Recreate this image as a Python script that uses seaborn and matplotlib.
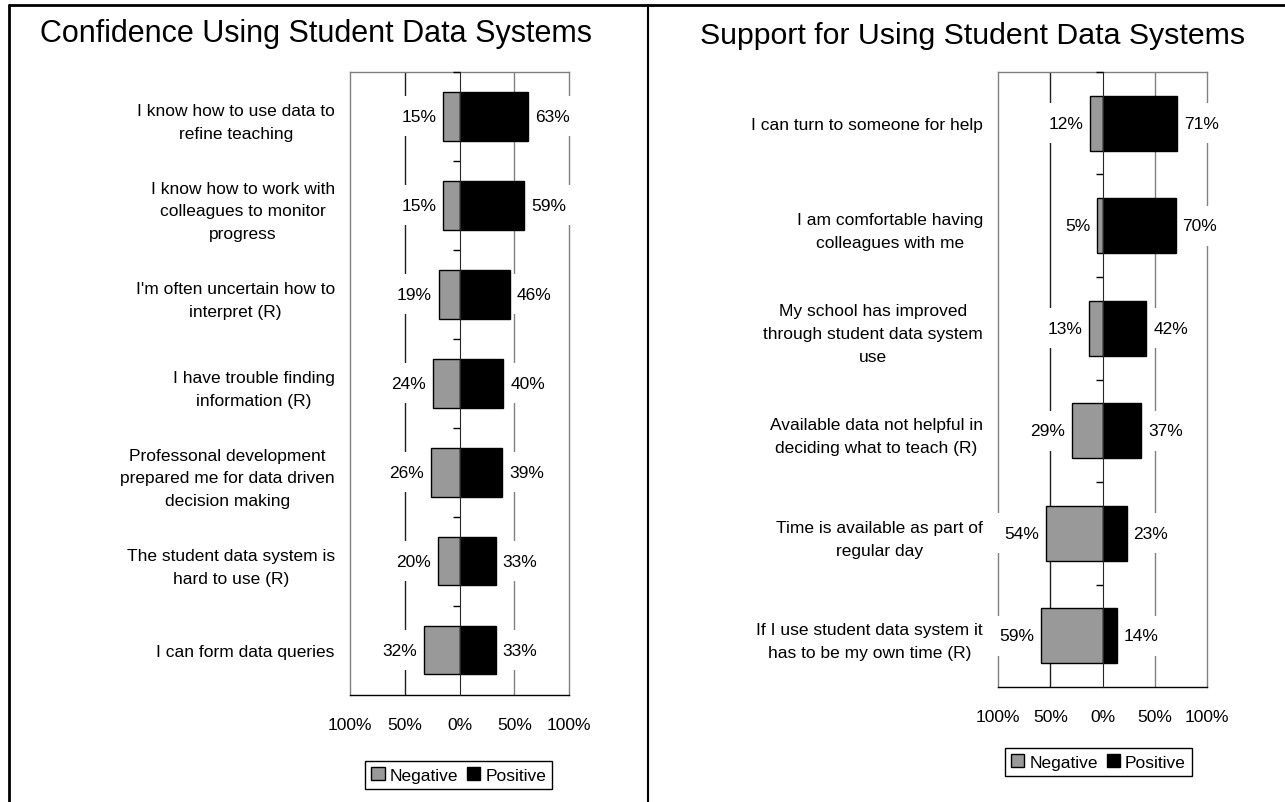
import pandas as pd
import matplotlib.pyplot as plt
import seaborn as sns
from matplotlib.patches import Patch
from matplotlib.lines import Line2D
from matplotlib.ticker import FuncFormatter

# Survey items and shares (negative / positive)
conf_items = [
    "I know how to use data to\nrefine teaching",
    "I know how to work with\ncolleagues to monitor\nprogress",
    "I'm often uncertain how to\ninterpret (R)",
    "I have trouble finding\ninformation (R)",
    "Professonal development\nprepared me for data driven\ndecision making",
    "The student data system is\nhard to use (R)",
    "I can form data queries",
]
conf_negative = [0.15, 0.15, 0.19, 0.24, 0.26, 0.20, 0.32]
conf_positive = [0.63, 0.59, 0.46, 0.40, 0.39, 0.33, 0.33]

supp_items = [
    "I can turn to someone for help",
    "I am comfortable having\ncolleagues with me",
    "My school has improved\nthrough student data system\nuse",
    "Available data not helpful in\ndeciding what to teach (R)",
    "Time is available as part of\nregular day",
    "If I use student data system it\nhas to be my own time (R)",
]
supp_negative = [0.12, 0.05, 0.13, 0.29, 0.54, 0.59]
supp_positive = [0.71, 0.70, 0.42, 0.37, 0.23, 0.14]

titles = ["Confidence Using Student Data Systems", "Support for Using Student Data Systems"]
kinds = ["Negative", "Positive"]
colors = {"Negative": "#999999", "Positive": "#000000"}

sns.set_style("white")
plt.rcParams["font.family"] = ["Liberation Sans", "DejaVu Sans"]
plt.rcParams["font.size"] = 12.5
plt.rcParams["text.color"] = "black"
plt.rcParams["xtick.color"] = "black"
plt.rcParams["ytick.color"] = "black"
plt.rcParams["axes.labelcolor"] = "black"

fig = plt.figure(figsize=(12.85, 8.03), dpi=100)

# axes rectangles in figure fractions
ax_left = fig.add_axes([0.2724, 0.1333, 0.1704, 0.7758])
ax_right = fig.add_axes([0.7767, 0.1432, 0.1626, 0.7659])


def draw_panel(ax, items, neg, pos):
    df = pd.DataFrame({
        "item": items * 2,
        "value": [-v for v in neg] + list(pos),
        "kind": ["Negative"] * len(items) + ["Positive"] * len(items),
    })
    sns.barplot(data=df, x="value", y="item", hue="kind", order=items,
                hue_order=kinds, palette=colors, dodge=False, width=0.54,
                edgecolor="black", linewidth=1, legend=False, ax=ax, zorder=3)
    n = len(items)
    ax.set_xlim(-1, 1)
    ax.set_ylim(n - 0.5, -0.5)
    ax.set_xlabel("")
    ax.set_ylabel("")
    ax.set_xticks([-1, -0.5, 0, 0.5, 1])
    ax.xaxis.set_major_formatter(FuncFormatter(lambda v, _: f"{abs(v):.0%}"))
    ax.tick_params(axis="x", length=5, width=1, color="black", direction="out",
                   pad=11, labelsize=12.5, labelcolor="black")
    ax.tick_params(axis="y", length=0, pad=11, labelsize=12.5, labelcolor="black")
    for lab in ax.get_yticklabels():
        lab.set_multialignment("center")
        lab.set_linespacing(1.65)
        lab.set_zorder(6)
    for side in ["top", "left", "right"]:
        ax.spines[side].set_color("#808080")
        ax.spines[side].set_linewidth(1)
        ax.spines[side].set_zorder(2.5)
    ax.spines["bottom"].set_color("black")
    ax.spines["bottom"].set_linewidth(1)
    ax.spines["bottom"].set_zorder(4)
    ax.axvline(-0.5, color="#202020", lw=1, zorder=0)
    ax.axvline(0.5, color="#808080", lw=1, zorder=0)
    # zero line with category separator ticks
    sec = ax.secondary_yaxis(0.5)
    sec.set_zorder(5)
    sec.yaxis.set_ticks_position("left")
    sec.set_yticks([i + 0.5 for i in range(n - 1)] + [-0.5])
    sec.set_yticklabels([])
    sec.tick_params(length=5, width=1, direction="out", color="black")
    sec.spines["left"].set_color("black")
    sec.spines["left"].set_linewidth(1)
    for cont in ax.containers:
        texts = ax.bar_label(cont, labels=[f"{abs(v):.0%}" for v in cont.datavalues],
                             padding=5, fontsize=12.5, color="black",
                             bbox=dict(facecolor="white", edgecolor="none", pad=9))
        for t in texts:
            t.set_zorder(2.7)


draw_panel(ax_left, conf_items, conf_negative, conf_positive)
draw_panel(ax_right, supp_items, supp_negative, supp_positive)

fig.text(0.246, 0.958, titles[0], ha="center", va="center", fontsize=22)
fig.text(0.757, 0.955, titles[1], ha="center", va="center", fontsize=21.8)

handles = [Patch(facecolor=colors[k], edgecolor="black", linewidth=1) for k in kinds]
for cx, cy in [(0.357, 0.0336), (0.855, 0.0498)]:
    fig.legend(handles, kinds, loc="center", bbox_to_anchor=(cx, cy), ncol=2,
               frameon=True, fancybox=False, edgecolor="black", framealpha=1,
               handlelength=0.75, handleheight=0.75, handletextpad=0.3,
               columnspacing=0.5, borderpad=0.35, fontsize=12.5)

# panel frame lines
fig.add_artist(Line2D([0.007, 0.007], [0, 0.992], color="black", lw=2))
fig.add_artist(Line2D([0.007, 1], [0.992, 0.992], color="black", lw=2))
fig.add_artist(Line2D([0.504, 0.504], [0, 0.992], color="black", lw=1.5))

fig.savefig("out.png", dpi=100, facecolor="white")
